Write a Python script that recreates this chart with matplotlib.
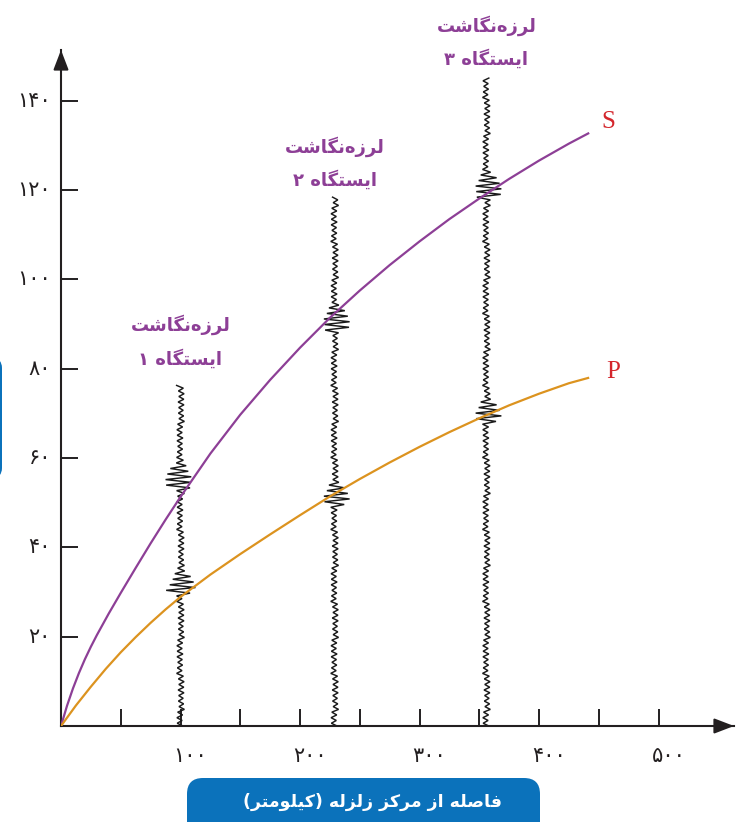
import numpy as np
import matplotlib
matplotlib.use("Agg")
import matplotlib.pyplot as plt
from matplotlib.patches import FancyBboxPatch
from matplotlib.transforms import ScaledTranslation

# travel-time curves (distance km -> time s)
s_km = [0, 5, 10, 15, 20, 25, 30, 40, 50, 62.5, 75, 87.5, 100, 125, 150,
        175, 200, 225, 250, 275, 300, 325, 350, 375, 400, 425, 442]
s_time = [0, 4.5, 8.4, 11.85, 14.95, 17.75, 20.35, 25.2, 29.8, 35.4, 40.9,
          46.2, 51.3, 61.0, 69.7, 77.5, 84.7, 91.4, 97.5, 103.2, 108.5,
          113.5, 118.1, 122.5, 126.6, 130.4, 132.8]
p_km = [0, 12.5, 25, 37.5, 50, 62.5, 75, 87.5, 100, 125, 150, 175, 200,
        225, 250, 275, 300, 325, 350, 375, 400, 425, 442]
p_time = [0, 4.6, 8.8, 12.8, 16.5, 19.9, 23.1, 26.1, 28.9, 33.9, 38.5,
          42.9, 47.2, 51.4, 55.3, 59.0, 62.5, 65.8, 68.9, 71.8, 74.4,
          76.75, 78.0]

# seismograph stations
station_km = [100, 229, 356]
station_top = [76.4, 118.9, 145.4]
p_burst = [28.6, 48.4, 67.0]
s_burst = [52.3, 87.8, 117.8]
burst_env = [1.3, 3.2, 4.8, 3.4, 5.0, 3.6, 4.4, 2.6, 3.4, 1.9, 1.4]
noise_amp = [0.8, 1.1, 0.55, 1.2, 0.7, 0.95, 1.3, 0.5, 1.05, 0.7, 0.9, 0.6, 1.15]

x_ticks = [50, 100, 150, 200, 250, 300, 350, 400, 450, 500]
x_labels = {100: "۱۰۰", 200: "۲۰۰", 300: "۳۰۰", 400: "۴۰۰", 500: "۵۰۰"}
y_ticks = [20, 40, 60, 80, 100, 120, 140]
y_labels = ["۲۰", "۴۰", "۶۰", "۸۰", "۱۰۰", "۱۲۰", "۱۴۰"]

# Persian text, pre-shaped (presentation forms, visual order)
line1 = "\uFE96\uFEB7\uFE8E\uFB95\uFEE7\uFEE9\uFEAF\uFEAE\uFEDF"
line2_base = "\uFEE9\uFE8E\uFB95\uFE98\uFEB4\uFBFE\uFE8D"
station_num = ["۱", "۲", "۳"]
xtitle = ("(\uFEAE\uFE98\uFEE3\uFEEE\uFEE0\uFBFF\uFB90) "
          "\uFEEA\uFEDF\uFEB0\uFEDF\uFEAF \uFEB0\uFB90\uFEAE\uFEE3 "
          "\uFEAF\uFE8D \uFEEA\uFEE0\uFEBB\uFE8E\uFED3")

purple = "#8d3f96"
orange = "#dc931f"
axcol = "#231f20"
red = "#d4262c"
blue = "#0b72bb"

fig = plt.figure(figsize=(7.38, 8.22), dpi=100)
ax = fig.add_axes([61 / 738, 1 - 726 / 822, 673 / 738, 676 / 822])
ax.set_xlim(0, 673 / 1.195)
ax.set_ylim(0, 676 / 4.466)

for sp in ["top", "right"]:
    ax.spines[sp].set_visible(False)
for sp in ["left", "bottom"]:
    ax.spines[sp].set_linewidth(1.5)
    ax.spines[sp].set_color(axcol)

ax.set_xticks(x_ticks)
ax.set_yticks(y_ticks)
ax.set_xticklabels([])
ax.set_yticklabels([])
ax.tick_params(direction="in", length=12.5, width=1.4, color=axcol)

# arrow heads
arrow = dict(arrowstyle="-|>,head_length=0.6,head_width=0.23",
             mutation_scale=20, color=axcol, lw=1.5, shrinkA=0, shrinkB=0)
ax.annotate("", xy=(0, 1), xycoords="axes fraction", xytext=(0, 0.97),
            arrowprops=arrow)
ax.annotate("", xy=(1, 0), xycoords="axes fraction", xytext=(0.97, 0),
            arrowprops=arrow)

# tick labels
for v, lab in x_labels.items():
    ax.text(v, 0, lab, fontsize=15, family="DejaVu Sans", color=axcol,
            ha="center", va="center",
            transform=ax.transData + ScaledTranslation(0.10, -0.30, fig.dpi_scale_trans))
for v, lab in zip(y_ticks, y_labels):
    ax.text(0, v, lab, fontsize=15, family="DejaVu Sans", color=axcol,
            ha="right", va="center",
            transform=ax.transData + ScaledTranslation(-0.10, 0, fig.dpi_scale_trans))

# seismograms
for i, x0 in enumerate(station_km):
    ys, xs = [], []
    t = 0.0
    k = 0
    while t <= station_top[i]:
        a = 2.5 * noise_amp[k % len(noise_amp)]
        for b0 in (p_burst[i], s_burst[i]):
            if b0 <= t < b0 + 6.6:
                j = int((t - b0) / 0.6)
                a = 2.5 * burst_env[min(j, len(burst_env) - 1)]
        sign = 1 if k % 2 == 0 else -1
        xs.append(x0 + sign * a)
        ys.append(t)
        t += 0.62
        k += 1
    ax.plot(xs, ys, color="#1a1a1a", lw=1.05, solid_joinstyle="miter", zorder=2)

# curves
ax.plot(s_km, s_time, color=purple, lw=1.6, zorder=3, solid_capstyle="butt")
ax.plot(p_km, p_time, color=orange, lw=1.6, zorder=3, solid_capstyle="butt")

ax.text(s_km[-1], s_time[-1], "S", fontsize=18, family="Liberation Serif",
        color=red, ha="center", va="center",
        transform=ax.transData + ScaledTranslation(0.19, 0.11, fig.dpi_scale_trans))
ax.text(p_km[-1], p_time[-1], "P", fontsize=18, family="Liberation Serif",
        color=red, ha="center", va="center",
        transform=ax.transData + ScaledTranslation(0.24, 0.055, fig.dpi_scale_trans))

# station labels
label_y = [89.8, 129.8, 156.9]
for i, x0 in enumerate(station_km):
    ax.text(x0, label_y[i], line1, fontsize=13, fontweight="bold",
            family="DejaVu Sans", color=purple, ha="center", va="center",
            clip_on=False)
    ax.text(x0, label_y[i] - 34 / 4.466, station_num[i] + " " + line2_base,
            fontsize=13, fontweight="bold", family="DejaVu Sans",
            color=purple, ha="center", va="center", clip_on=False)

# blue boxes
fig.add_artist(FancyBboxPatch((1.87, -0.3), 3.53, 0.74,
                              boxstyle="round,pad=0,rounding_size=0.16",
                              transform=fig.dpi_scale_trans,
                              facecolor=blue, edgecolor="none"))
fig.add_artist(FancyBboxPatch((-0.3, 3.44), 0.32, 1.2,
                              boxstyle="round,pad=0,rounding_size=0.1",
                              transform=fig.dpi_scale_trans,
                              facecolor=blue, edgecolor="none"))
fig.text(3.725 / 7.38, 0.203 / 8.22, xtitle, fontsize=12.5, fontweight="bold",
         family="DejaVu Sans", color="white", ha="center", va="center")

fig.savefig("out.png", dpi=100)
